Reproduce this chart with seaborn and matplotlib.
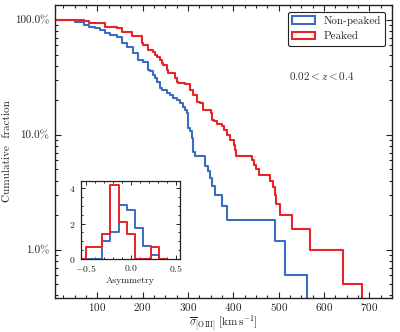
import numpy as np
import pandas as pd
import matplotlib
matplotlib.use("Agg")
import matplotlib.pyplot as plt
from matplotlib.patches import Patch
from matplotlib.ticker import FixedLocator, MultipleLocator, LogLocator, NullFormatter
import seaborn as sns

# ---------------- data ----------------
# Cumulative (complementary) fraction curves, step positions in km/s
nonpeaked_x = [7, 30, 51, 70, 81, 95, 107, 118, 129, 143, 154, 165, 180, 191, 202,
               213, 217, 224, 228, 232, 239, 243, 254, 261, 268, 275, 283, 290, 294,
               298, 300, 304, 309, 311, 316, 338, 345, 348, 353, 360, 375, 387, 491,
               513, 562.5]
nonpeaked_y = [1.0, 0.99, 0.966, 0.905, 0.875, 0.85, 0.818, 0.766, 0.741, 0.707, 0.627,
               0.586, 0.513, 0.449, 0.434, 0.368, 0.36, 0.33, 0.311, 0.29, 0.255, 0.246,
               0.231, 0.223, 0.209, 0.2, 0.189, 0.176, 0.163, 0.155, 0.114, 0.107, 0.094,
               0.0714, 0.0659, 0.0539, 0.048, 0.042, 0.036, 0.030, 0.024, 0.018, 0.012,
               0.006, 0.001]
peaked_x = [7, 51, 70, 81, 107, 118, 143, 154, 176, 198, 200, 213, 224, 228, 232, 239,
            243, 246, 254, 257, 272, 276, 279, 294, 305, 312, 320, 327, 334, 351, 353,
            357, 364, 375, 379, 386, 393, 401, 404, 407, 441, 446, 451, 456, 482, 488,
            491, 495, 502, 530, 570, 643, 684.5]
peaked_y = [1.0, 0.995, 0.986, 0.947, 0.936, 0.875, 0.847, 0.791, 0.72, 0.627, 0.606,
            0.548, 0.53, 0.496, 0.48, 0.449, 0.42, 0.406, 0.368, 0.344, 0.31, 0.291,
            0.281, 0.276, 0.246, 0.223, 0.195, 0.189, 0.165, 0.155, 0.135, 0.133, 0.125,
            0.12, 0.11, 0.1, 0.0906, 0.0818, 0.0739, 0.0648, 0.06, 0.055, 0.05, 0.045,
            0.04, 0.035, 0.03, 0.025, 0.02, 0.015, 0.01, 0.005, 0.001]

# Inset histogram of asymmetry (counts per bin)
asym_edges = [-0.59, -0.5, -0.41, -0.32, -0.23, -0.14, -0.05, 0.04, 0.13, 0.22, 0.31, 0.40]
asym_nonpeaked_counts = [0, 0, 0, 4, 6, 12, 11, 7, 3, 1, 0]
asym_peaked_counts = [0, 1, 1, 2, 6, 3, 2, 0, 0, 1, 0]

series_labels = ["Non-peaked", "Peaked"]
main_xticks = [100, 200, 300, 400, 500, 600, 700]
main_yticks = [0.01, 0.1, 1.0]
main_yticklabels = ["1.0%", "10.0%", "100.0%"]
inset_xticks = [-0.5, 0.0, 0.5]
inset_xticklabels = [r"$-0.5$", r"$0.0$", r"$0.5$"]
inset_yticks = [0, 2, 4]

# ---------------- style ----------------
sns.set_style("ticks")
plt.rcParams["font.family"] = ["cmr10", "DejaVu Serif"]
plt.rcParams["mathtext.fontset"] = "cm"
plt.rcParams["axes.formatter.use_mathtext"] = True
plt.rcParams["axes.unicode_minus"] = False

BLUE = "#3a6cc2"
RED = "#e8232a"
TXT = "#222222"
FS = 8

fig = plt.figure(figsize=(4.0, 3.32), dpi=100)
ax = fig.add_axes([0.1375, 0.1024, 0.8425, 0.8826])
ax.set_yscale("log")

sns.lineplot(x=nonpeaked_x, y=nonpeaked_y, drawstyle="steps-post", estimator=None,
             sort=False, color=BLUE, lw=1.5, ax=ax)
sns.lineplot(x=peaked_x, y=peaked_y, drawstyle="steps-post", estimator=None,
             sort=False, color=RED, lw=1.5, ax=ax)

ax.set_xlim(7, 750)
ax.set_ylim(0.0038, 1.35)
ax.xaxis.set_major_locator(FixedLocator(main_xticks))
ax.xaxis.set_minor_locator(MultipleLocator(25))
ax.yaxis.set_major_locator(FixedLocator(main_yticks))
ax.set_yticklabels(main_yticklabels)
ax.yaxis.set_minor_locator(LogLocator(base=10, subs=np.arange(2, 10)))
ax.yaxis.set_minor_formatter(NullFormatter())
ax.tick_params(which="both", direction="in", top=True, right=True, colors=TXT,
               labelsize=FS, width=0.8)
ax.tick_params(which="major", length=4, pad=4)
ax.tick_params(axis="x", pad=2.5)
ax.tick_params(which="minor", length=2)
for s in ax.spines.values():
    s.set_color(TXT)
    s.set_linewidth(1.0)

ax.set_xlabel(r"$\overline{\sigma}_{\rm [OIII]}\ [{\rm km\,s^{-1}}]$", fontsize=FS,
              color=TXT)
ax.xaxis.set_label_coords(0.5, -0.053)
ax.set_ylabel("Cumulative  fraction", fontsize=FS, color=TXT, labelpad=2)

ax.text(0.791, 0.758, r"$0.02 < z < 0.4$", transform=ax.transAxes, ha="center",
        va="center", fontsize=FS, color="#333333")

handles = [Patch(facecolor="none", edgecolor=BLUE, lw=1.5, label=series_labels[0]),
           Patch(facecolor="none", edgecolor=RED, lw=1.5, label=series_labels[1])]
leg = ax.legend(handles=handles, loc="upper right", fontsize=FS, frameon=True,
                fancybox=True, framealpha=1, edgecolor="#222222", handlelength=2.0,
                borderaxespad=0.6)
leg.get_frame().set_linewidth(0.8)
for t in leg.get_texts():
    t.set_color(TXT)

# ---------------- inset ----------------
ins = fig.add_axes([0.2018, 0.2199, 0.2475, 0.2358])
centers = [(a + b) / 2 for a, b in zip(asym_edges[:-1], asym_edges[1:])]
sns.histplot(x=centers, weights=asym_nonpeaked_counts, bins=asym_edges, stat="density",
             element="step", fill=False, color=BLUE, lw=1.4, ax=ins)
sns.histplot(x=centers, weights=asym_peaked_counts, bins=asym_edges, stat="density",
             element="step", fill=False, color=RED, lw=1.4, ax=ins)
ins.set_xlim(-0.56, 0.54)
ins.set_ylim(0, 4.42)
ins.xaxis.set_major_locator(FixedLocator(inset_xticks))
ins.set_xticklabels(inset_xticklabels)
ins.xaxis.set_minor_locator(MultipleLocator(0.1))
ins.yaxis.set_major_locator(FixedLocator(inset_yticks))
ins.yaxis.set_minor_locator(MultipleLocator(0.5))
ins.tick_params(which="both", direction="in", top=True, right=True, colors=TXT,
                labelsize=7, width=0.7)
ins.tick_params(axis="x", pad=3)
ins.tick_params(axis="y", pad=4)
ins.tick_params(which="major", length=3)
ins.tick_params(which="minor", length=1.5)
for s in ins.spines.values():
    s.set_color(TXT)
    s.set_linewidth(0.9)
ins.set_ylabel("")
ins.set_xlabel("Asymmetry", fontsize=7, color=TXT, labelpad=2)

fig.savefig("out.png", dpi=100)
